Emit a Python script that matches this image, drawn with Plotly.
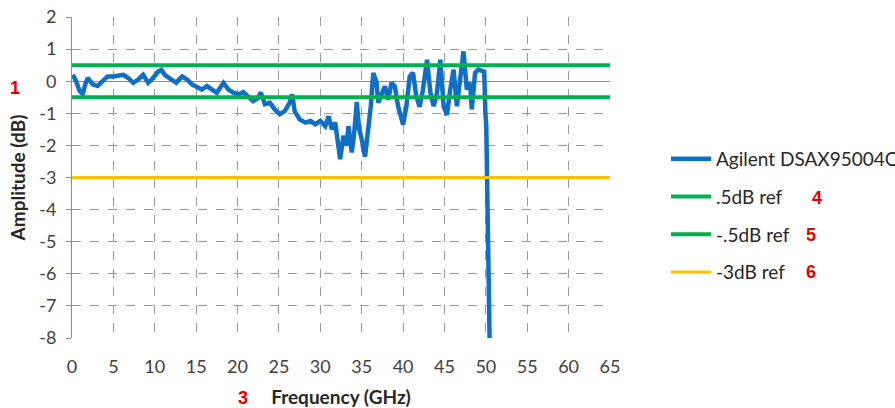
import plotly.graph_objects as go

# ---- data ----
freq_ghz = [0.1, 0.5, 0.9, 1.3, 1.6, 1.9, 2.5, 3.1, 3.7, 4.3, 5.0, 5.6, 6.2, 6.8, 7.4, 8.0,
            8.6, 9.2, 9.8, 10.4, 10.8, 11.2, 12.0, 12.6, 13.3, 13.9, 14.5, 15.1, 15.7, 16.3,
            16.9, 17.5, 18.3, 18.9, 19.5, 20.1, 20.7, 21.3, 21.9, 22.5, 22.8, 23.3, 23.9,
            24.5, 25.1, 25.7, 26.3, 26.6, 26.9, 27.5, 28.2, 28.8, 29.4, 30.0, 30.6, 31.0,
            31.4, 31.8, 32.2, 32.4, 32.8, 33.2, 33.4, 33.8, 34.1, 34.4, 34.7, 35.0, 35.4,
            35.8, 36.1, 36.4, 36.8, 37.0, 37.4, 37.8, 38.2, 38.6, 39.0, 39.4, 40.0, 40.4,
            40.8, 41.2, 41.6, 42.0, 42.4, 42.9, 43.3, 43.7, 44.1, 44.5, 44.9, 45.3, 45.7,
            46.1, 46.5, 46.9, 47.3, 47.7, 48.1, 48.3, 48.7, 49.1, 49.5, 49.8, 49.95, 50.05,
            50.45]
amplitude_db = [0.2, 0.0, -0.3, -0.4, -0.1, 0.1, -0.1, -0.15, 0.0, 0.15, 0.15, 0.17, 0.2, 0.1,
                -0.05, 0.05, 0.2, -0.05, 0.1, 0.3, 0.35, 0.2, 0.05, -0.05, 0.15, 0.05, -0.1,
                -0.2, -0.26, -0.15, -0.26, -0.36, -0.05, -0.26, -0.36, -0.41, -0.34, -0.47,
                -0.62, -0.52, -0.35, -0.72, -0.67, -0.88, -1.03, -0.93, -0.67, -0.41, -0.93,
                -1.19, -1.29, -1.24, -1.34, -1.24, -1.4, -1.09, -1.5, -1.29, -1.91, -2.43,
                -1.7, -2.0, -1.4, -2.22, -1.6, -0.65, -1.5, -1.8, -2.35, -1.6, -0.78, 0.26,
                -0.05, -0.67, -0.36, -0.16, -0.57, -0.05, -0.16, -0.78, -1.35, -0.78, 0.15,
                0.26, -0.47, -0.8, -0.26, 0.67, -0.36, -0.78, -0.36, 0.67, -0.78, -1.05,
                -0.26, 0.36, -0.78, 0.15, 0.93, -0.26, -0.05, -0.88, 0.26, 0.36, 0.31, 0.3,
                -1.0, -1.4, -8.0]

ref_x = [0, 65]
ref_pos_half = [0.5, 0.5]
ref_neg_half = [-0.5, -0.5]
ref_neg_3 = [-3, -3]

series_names = ["Agilent DSAX95004Q", ".5dB ref", "-.5dB ref", "-3dB ref"]
x_ticks = list(range(0, 70, 5))
y_ticks = list(range(-8, 3, 1))

# ---- layout helpers (pixel -> paper) ----
L, R, T, B = 72, 610, 17, 338
W, H = 895, 408
def px(x):
    return (x - L) / (R - L)
def py(y):
    return (B - y) / (B - T)

FONT = "Lato, 'Open Sans', sans-serif"
BLUE = "#0F6FC6"
GREEN = "#00B050"
YELLOW = "#FFC000"
RED = "#E00000"

fig = go.Figure()
fig.add_trace(go.Scatter(x=freq_ghz, y=amplitude_db, mode="lines", name=series_names[0],
                         line=dict(color=BLUE, width=4.5), legendgroup="a"))
fig.add_trace(go.Scatter(x=ref_x, y=ref_pos_half, mode="lines", name=series_names[1],
                         line=dict(color=GREEN, width=4), legendgroup="b"))
fig.add_trace(go.Scatter(x=ref_x, y=ref_neg_half, mode="lines", name=series_names[2],
                         line=dict(color=GREEN, width=4), legendgroup="c"))
fig.add_trace(go.Scatter(x=ref_x, y=ref_neg_3, mode="lines", name=series_names[3],
                         line=dict(color=YELLOW, width=3), legendgroup="d"))

grid = "#9a9a9a"
fig.update_layout(
    width=W, height=H,
    margin=dict(l=L, r=W - R, t=T, b=H - B, autoexpand=False),
    paper_bgcolor="white", plot_bgcolor="white",
    font=dict(family=FONT, size=18, color="#404040"),
    showlegend=True,
    legend=dict(x=px(666), y=py(140), xanchor="left", yanchor="top",
                traceorder="grouped", tracegroupgap=10, itemwidth=40,
                font=dict(size=19, color="#262626"), bgcolor="rgba(0,0,0,0)"),
    xaxis=dict(range=[0, 65], tickvals=x_ticks, ticktext=[str(v) for v in x_ticks],
               showgrid=True, gridcolor=grid, griddash="dash", gridwidth=1,
               zeroline=False, showline=False, ticks="", ticklabelstandoff=16,
               title=dict(text="<b>Frequency (GHz)</b>", standoff=15,
                          font=dict(size=19, color="#262626"))),
    yaxis=dict(range=[-8, 2], tickvals=y_ticks, ticktext=[str(v) for v in y_ticks],
               showgrid=True, gridcolor=grid, griddash="dash", gridwidth=1,
               zeroline=True, zerolinecolor="#8c8c8c", zerolinewidth=1,
               showline=True, linecolor="#8c8c8c", linewidth=1,
               ticks="outside", ticklen=5, tickcolor="#8c8c8c", ticklabelstandoff=6,
               title=dict(text="<b>Amplitude (dB)</b>", standoff=8,
                          font=dict(size=19, color="#262626"))),
)

marks = [("1", 15, 88), ("3", 243, 398), ("4", 817, 198), ("5", 811, 235), ("6", 811, 272)]
for txt, x, y in marks:
    fig.add_annotation(text="<b>%s</b>" % txt, x=px(x), y=py(y), xref="paper", yref="paper",
                       showarrow=False, xanchor="center", yanchor="middle",
                       font=dict(family="Liberation Sans, Arial, sans-serif", size=18, color=RED))

fig.write_html("out.html", config={"displayModeBar": False},
               post_script="document.body.style.margin='0';document.body.style.overflow='hidden';")
